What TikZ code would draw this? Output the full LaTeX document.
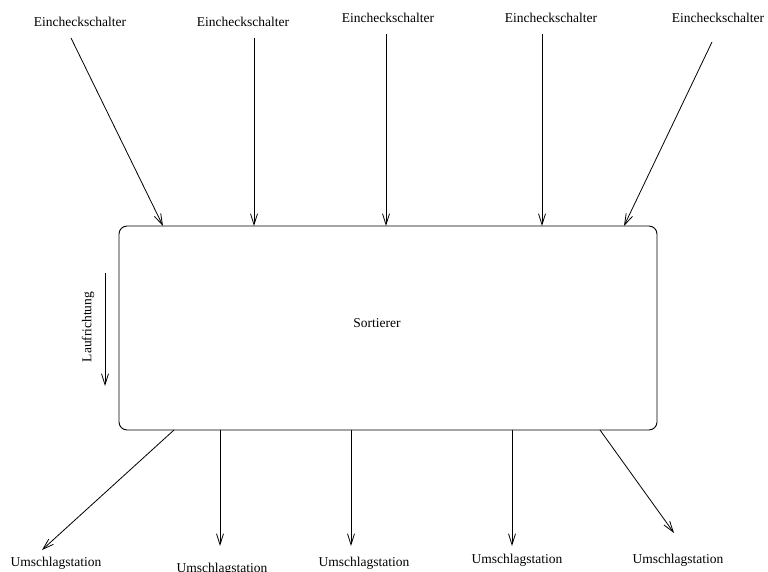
\documentclass[tikz,border=0pt]{standalone}
\usepackage{fontspec}
\setmainfont{Liberation Serif}
\usetikzlibrary{arrows.meta}
\begin{document}
\begin{tikzpicture}[x=1pt,y=-1pt,
  lbl/.style={inner sep=0pt,font=\fontsize{13.5}{16}\selectfont},
  flow/.style={line width=0.8pt,-{Straight Barb[length=11pt,width=7pt,line width=0.8pt]}},
  sorter/.style={draw,line width=0.9pt,rounded corners=8pt,minimum width=538pt,minimum height=204pt,inner sep=0pt}]
\useasboundingbox (0,0) rectangle (768,572);

% central sorter
\node[sorter,lbl] (sort) at (388,328) {};
\node[lbl] (sorttxt) at (377,323) {Sortierer};

% check-in counters
\node[lbl] (e1) at (80,22) {Eincheckschalter};
\node[lbl] (e2) at (243,22) {Eincheckschalter};
\node[lbl] (e3) at (388,18) {Eincheckschalter};
\node[lbl] (e4) at (551,18) {Eincheckschalter};
\node[lbl] (e5) at (718,18) {Eincheckschalter};

\coordinate (e1s) at (71,38);  \coordinate (e1t) at (163,226);
\coordinate (e2s) at (254,38); \coordinate (e2t) at (254,226);
\coordinate (e3s) at (386,34); \coordinate (e3t) at (386,226);
\coordinate (e4s) at (542,34); \coordinate (e4t) at (542,226);
\coordinate (e5s) at (712,42); \coordinate (e5t) at (624,226);
\foreach \i in {1,...,5} \draw[flow] (e\i s) -- (e\i t);

% transfer stations
\node[lbl] (u1) at (56,563) {Umschlagstation};
\node[lbl] (u2) at (222,569) {Umschlagstation};
\node[lbl] (u3) at (364,563) {Umschlagstation};
\node[lbl] (u4) at (517,560) {Umschlagstation};
\node[lbl] (u5) at (678,560) {Umschlagstation};

\coordinate (u1s) at (174,430); \coordinate (u1t) at (42,550);
\coordinate (u2s) at (220,430); \coordinate (u2t) at (220,546);
\coordinate (u3s) at (351,430); \coordinate (u3t) at (351,546);
\coordinate (u4s) at (512,430); \coordinate (u4t) at (512,546);
\coordinate (u5s) at (600,430); \coordinate (u5t) at (674,533);
\foreach \i in {1,...,5} \draw[flow] (u\i s) -- (u\i t);

% running direction
\node[lbl,rotate=90] (lauf) at (88,327) {Laufrichtung};
\coordinate (l1) at (105,273); \coordinate (l2) at (105,386);
\draw[flow] (l1) -- (l2);
\end{tikzpicture}
\end{document}
